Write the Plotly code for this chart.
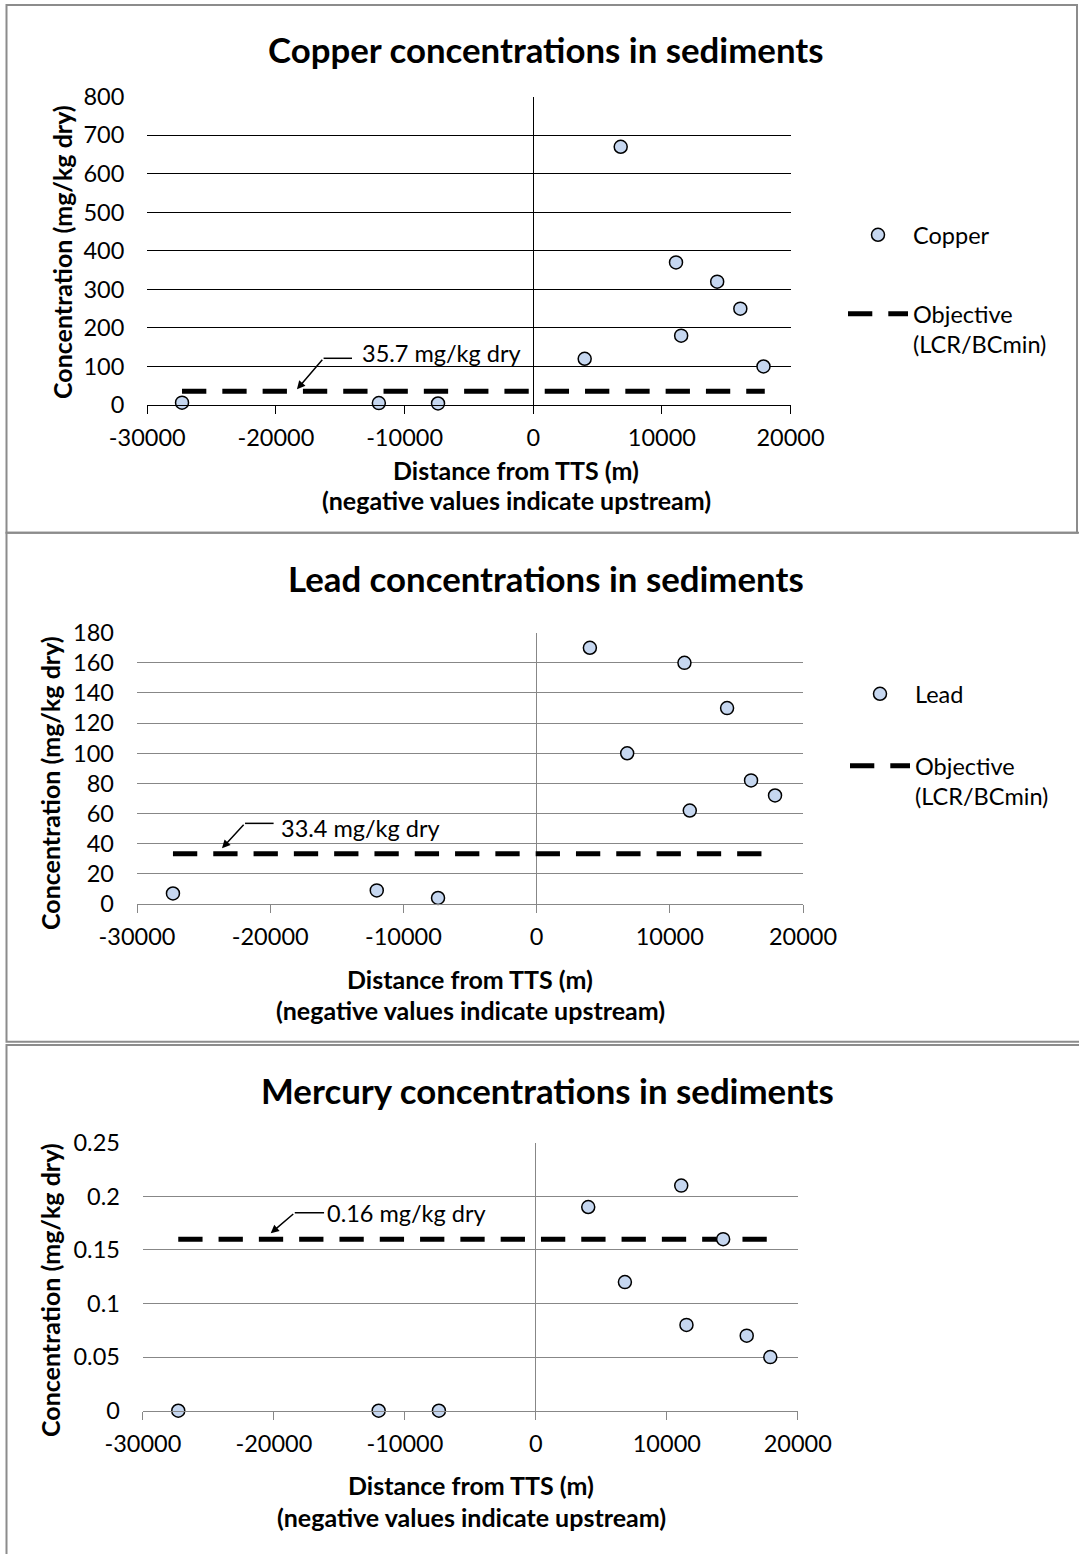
import plotly.graph_objects as go

# ---------------- data ----------------
distance_m = [-27300, -12000, -7400, 4000, 6800, 11100, 11500, 14300, 16100, 17900]
copper = [6, 5, 4, 120, 670, 370, 180, 320, 250, 100]
lead = [7, 9, 4, 170, 100, 160, 62, 130, 82, 72]
mercury = [0, 0, 0, 0.19, 0.12, 0.21, 0.08, 0.16, 0.07, 0.05]

objective_x = [-27300, 18000]
copper_objective = 35.7
lead_objective = 33.4
mercury_objective = 0.16

x_tickvals = [-30000, -20000, -10000, 0, 10000, 20000]
x_ticktext = ["-30000", "-20000", "-10000", "0", "10000", "20000"]
copper_ticks = [0, 100, 200, 300, 400, 500, 600, 700, 800]
lead_ticks = [0, 20, 40, 60, 80, 100, 120, 140, 160, 180]
mercury_ticks = [0, 0.05, 0.1, 0.15, 0.2, 0.25]
mercury_ticktext = ["0", "0.05", "0.1", "0.15", "0.2", "0.25"]

titles = ["Copper concentrations in sediments",
          "Lead concentrations in sediments",
          "Mercury concentrations in sediments"]
y_title = "Concentration (mg/kg dry)"
x_title1 = "Distance from TTS (m)"
x_title2 = "(negative values indicate upstream)"
objective_name = "Objective<br>(LCR/BCmin)"

# ---------------- layout helpers ----------------
W, H = 1079, 1554
FONT = "Lato"
FS = 23.5
BFS = 25
TFS = 34.8
GRAY = "#878787"
MARKER_FILL = "#C6D7F0"


def px(x):
    return x / W


def py(y):
    return 1 - y / H


# plot areas in pixels: (left, right, top, bottom)
areas = [
    dict(l=147.3, r=790.5, t=96.7, b=405.0, col="black"),
    dict(l=137.0, r=803.0, t=632.7, b=904.0, col=GRAY),
    dict(l=142.9, r=797.8, t=1142.7, b=1410.7, col=GRAY),
]

fig = go.Figure()

series = [("Copper", copper, copper_objective),
          ("Lead", lead, lead_objective),
          ("Mercury", mercury, mercury_objective)]
legend_names = [("legend", "legend2"), ("legend3", "legend4"), (None, None)]

for i, (name, vals, obj) in enumerate(series):
    xa = "x" if i == 0 else f"x{i+1}"
    ya = "y" if i == 0 else f"y{i+1}"
    lg_pt, lg_obj = legend_names[i]
    fig.add_trace(go.Scatter(
        x=objective_x, y=[obj, obj], mode="lines",
        name=objective_name, xaxis=xa, yaxis=ya,
        line=dict(color="black", width=5, dash="24.3px,16px"),
        showlegend=lg_obj is not None,
        **({"legend": lg_obj} if lg_obj else {}),
        hoverinfo="skip", cliponaxis=False,
    ))
    fig.add_trace(go.Scatter(
        x=distance_m, y=vals, mode="markers", name=name,
        xaxis=xa, yaxis=ya, cliponaxis=False,
        marker=dict(symbol="circle", size=13, color=MARKER_FILL,
                    line=dict(color="black", width=1.5)),
        showlegend=lg_pt is not None,
        **({"legend": lg_pt} if lg_pt else {}),
    ))

yranges = [[0, 800], [0, 180], [0, 0.25]]
ytickvals = [copper_ticks, lead_ticks, mercury_ticks]
yticktexts = [[str(v) for v in copper_ticks], [str(v) for v in lead_ticks], mercury_ticktext]

layout = dict(
    width=W, height=H,
    margin=dict(l=0, r=0, t=0, b=0),
    paper_bgcolor="white", plot_bgcolor="white",
    font=dict(family=FONT, size=FS, color="black"),
    showlegend=True,
)

for i, a in enumerate(areas):
    sx = "" if i == 0 else str(i + 1)
    layout["xaxis" + sx] = dict(
        domain=[px(a["l"]), px(a["r"])], range=[-30000, 20000],
        anchor="y" + sx, tickmode="array", tickvals=x_tickvals, ticktext=x_ticktext,
        ticks="outside", ticklen=8, tickwidth=1, tickcolor=a["col"],
        showline=True, linecolor=a["col"], linewidth=1,
        showgrid=False, zeroline=True, zerolinecolor=a["col"], zerolinewidth=1,
        tickfont=dict(family=FONT, size=FS, color="black"),
        ticklabelstandoff=4, automargin=False, fixedrange=True,
    )
    layout["yaxis" + sx] = dict(
        domain=[py(a["b"]), py(a["t"])], range=yranges[i],
        anchor="x" + sx, tickmode="array", tickvals=ytickvals[i], ticktext=yticktexts[i],
        ticks="", showline=False, showgrid=True, gridcolor=a["col"], gridwidth=1,
        zeroline=False, tickfont=dict(family=FONT, size=FS, color="black"),
        ticklabelstandoff=22, automargin=False, fixedrange=True,
    )

leg_common = dict(xanchor="left", bgcolor="rgba(0,0,0,0)", borderwidth=0,
                  font=dict(family=FONT, size=FS, color="black"), itemwidth=60,
                  valign="top", itemclick=False, itemdoubleclick=False)
layout["legend"] = dict(x=px(843), y=py(235), yanchor="middle", **leg_common)
layout["legend2"] = dict(x=px(843), y=py(292), yanchor="top", **leg_common)
layout["legend3"] = dict(x=px(845), y=py(694), yanchor="middle", **leg_common)
layout["legend4"] = dict(x=px(845), y=py(744), yanchor="top", **leg_common)

fig.update_layout(**layout)

# panel borders
panels = [(6.5, 5, 1077, 532.7), (6.5, 532.7, 1085, 1041.7), (6.5, 1045, 1085, 1560)]
for (x0, y0, x1, y1) in panels:
    fig.add_shape(type="rect", xref="paper", yref="paper",
                  x0=px(x0), x1=px(x1), y0=py(y0), y1=py(y1),
                  line=dict(color="#8C8C8C", width=2), fillcolor="rgba(0,0,0,0)", layer="below")

# titles and axis titles
title_pos = [(546, 50), (546, 578.3), (547, 1090)]
ytitle_pos = [(62, 252), (50, 783), (50, 1290)]
xtitle_pos = [(516, 470, 500), (470, 979, 1010), (471, 1485, 1516.7)]
for i in range(3):
    fig.add_annotation(xref="paper", yref="paper", x=px(title_pos[i][0]), y=py(title_pos[i][1]),
                       text=f"<b>{titles[i]}</b>", showarrow=False, xanchor="center", yanchor="middle",
                       font=dict(family=FONT, size=TFS, color="black"))
    fig.add_annotation(xref="paper", yref="paper", x=px(ytitle_pos[i][0]), y=py(ytitle_pos[i][1]),
                       text=f"<b>{y_title}</b>", showarrow=False, textangle=-90,
                       xanchor="center", yanchor="middle",
                       font=dict(family=FONT, size=BFS, color="black"))
    fig.add_annotation(xref="paper", yref="paper", x=px(xtitle_pos[i][0]), y=py(xtitle_pos[i][1]),
                       text=f"<b>{x_title1}</b>", showarrow=False, xanchor="center", yanchor="middle",
                       font=dict(family=FONT, size=BFS, color="black"))
    fig.add_annotation(xref="paper", yref="paper", x=px(xtitle_pos[i][0]), y=py(xtitle_pos[i][2]),
                       text=f"<b>{x_title2}</b>", showarrow=False, xanchor="center", yanchor="middle",
                       font=dict(family=FONT, size=BFS, color="black"))

# callouts: (tip_x, tip_y, elbow_x, elbow_y, start_x, text_x, text_y) in data units
callouts = [
    (-18366, 40.7, -16296, 121.2, -14086, -13494, 134, copper_objective, "x", "y"),
    (-23621, 37.0, -21889, 53.5, -19745, -19310, 50.2, lead_objective, "x2", "y2"),
    (-20244, 0.1655, -18405, 0.1847, -16168, -16092, 0.1841, mercury_objective, "x3", "y3"),
]
for (tx, ty, ex, ey, sx_, lx, ly, obj, xr, yr) in callouts:
    fig.add_shape(type="line", xref=xr, yref=yr, x0=sx_, x1=ex, y0=ey, y1=ey,
                  line=dict(color="black", width=1.5))
    fig.add_annotation(xref=xr, yref=yr, x=tx, y=ty, ax=ex, ay=ey, axref=xr, ayref=yr,
                       text="", showarrow=True, arrowhead=2, arrowsize=1.1, arrowwidth=1.5,
                       arrowcolor="black")
    fig.add_annotation(xref=xr, yref=yr, x=lx, y=ly, text=f"{obj} mg/kg dry",
                       showarrow=False, xanchor="left", yanchor="middle",
                       font=dict(family=FONT, size=FS, color="black"))

fig.write_html("out.html", config={"displayModeBar": False},
               post_script="document.body.style.margin='0px';document.body.style.overflow='hidden';")
